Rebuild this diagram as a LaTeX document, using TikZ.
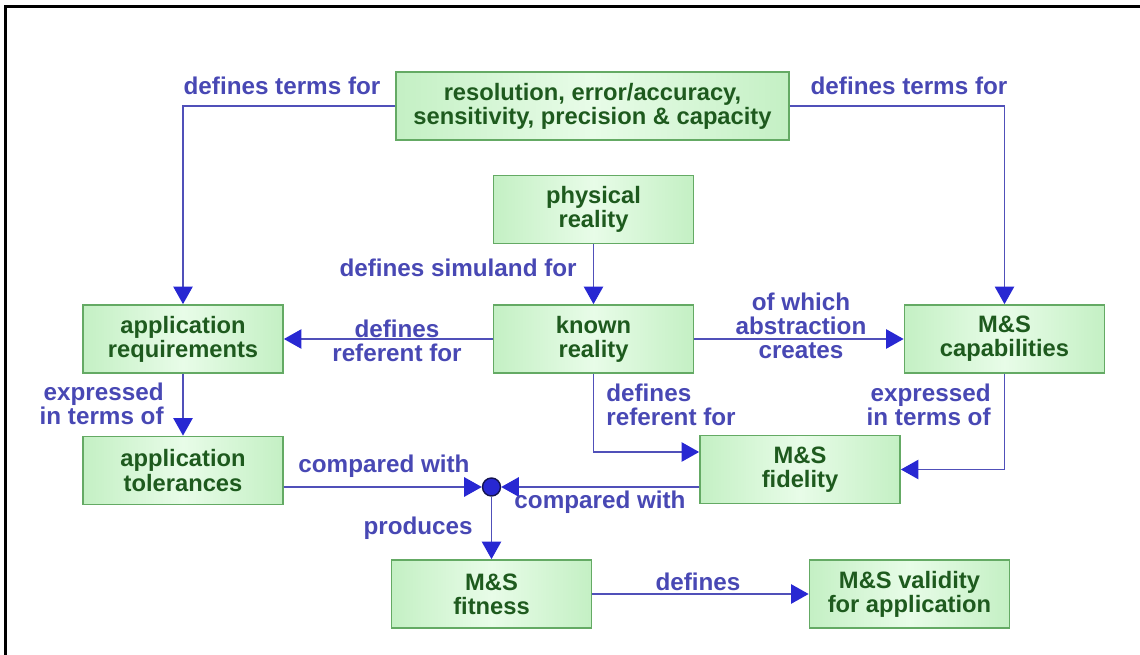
\documentclass[tikz,border=0pt]{standalone}
\usepackage{fontspec}
\setmainfont{Liberation Sans}
\usetikzlibrary{arrows.meta}
\definecolor{boxfill}{RGB}{196,240,196}
\definecolor{boxlight}{RGB}{232,252,232}
\definecolor{boxline}{RGB}{100,170,100}
\definecolor{boxtext}{RGB}{30,90,30}
\definecolor{labeltext}{RGB}{72,72,180}
\definecolor{linkline}{RGB}{80,80,185}
\definecolor{tipblue}{RGB}{40,40,210}
\definecolor{dotline}{RGB}{20,20,80}

\begin{document}
\begin{tikzpicture}[x=0.02cm, y=-0.02cm,
    block/.style ={draw=boxline, line width=1pt, left color=boxfill, right color=boxfill, middle color=boxlight,
      text=boxtext, font=\fontsize{13.5}{13.7}\selectfont\bfseries, align=center, inner sep=0pt,
      minimum width=4cm, minimum height=1.36cm},
    relation/.style ={text=labeltext, font=\fontsize{13.8}{13.7}\selectfont\bfseries, align=center, inner sep=0pt},
    link/.style ={draw=linkline, line width=0.9pt, -{Triangle[length=10pt, width=11pt, color=tipblue]}}]
   \useasboundingbox (0,0) rectangle (1140,655);
   \draw[line width=1.3pt] (5.5,655) -- (5.5,6.5) -- (1140,6.5);

   \node[block, minimum width=7.86cm] (res) at (592.5,106) {resolution, error/accuracy,\\sensitivity, precision \& capacity};
   \node[block] (phys)  at (593.5,209.5) {physical\\reality};
   \node[block] (known) at (593.5,339)   {known\\reality};
   \node[block] (req)   at (183,339)     {application\\requirements};
   \node[block] (tol)   at (183,470.5)   {application\\tolerances};
   \node[block] (cap)   at (1004.5,339)  {M\&S\\capabilities};
   \node[block] (fid)   at (800,469.5)   {M\&S\\fidelity};
   \node[block] (fit)   at (491.5,594)   {M\&S\\fitness};
   \node[block] (val)   at (909.5,594)   {M\&S validity\\for application};
   \node[circle, draw=dotline, fill=tipblue, line width=0.8pt, minimum size=0.36cm, inner sep=0pt] (cmp) at (491.5,487) {};

   \draw[link] (res.west) -| (req.north);
   \draw[link] (res.east) -| (cap.north);
   \draw[link] (phys) -- (known);
   \draw[link] (known) -- (req);
   \draw[link] (known) -- (cap);
   \draw[link] (known.south) |- ([yshift=0.35cm]fid.west);
   \draw[link] (cap.south) |- (fid.east);
   \draw[link] (req) -- (tol);
   \draw[link] ([yshift=-0.33cm]tol.east) -- (cmp);
   \draw[link] ([yshift=-0.35cm]fid.west) -- (cmp);
   \draw[link] (cmp) -- (fit);
   \draw[link] (fit) -- (val);

   \node[relation] (termsL) at (282,86) {defines terms for};
   \node[relation] (termsR) at (909,86) {defines terms for};
   \node[relation, anchor=east] (simuland) at (577,268) {defines simuland for};
   \node[relation] (refL) at (397,341) {defines\\referent for};
   \node[relation] (abstr) at (801,326) {of which\\abstraction\\creates};
   \node[relation, align=left, anchor=west] (refR) at (606,405) {defines\\referent for};
   \node[relation, align=right, anchor=east] (exprR) at (991,405) {expressed\\in terms of};
   \node[relation, align=right, anchor=east] (exprL) at (164,404) {expressed\\in terms of};
   \node[relation] (cmpU) at (384,466) {compared with};
   \node[relation] (cmpD) at (600,502) {compared with};
   \node[relation, anchor=east] (prod) at (473,528) {produces};
   \node[relation] (defs) at (698,582) {defines};
 \end{tikzpicture}
\end{document}
